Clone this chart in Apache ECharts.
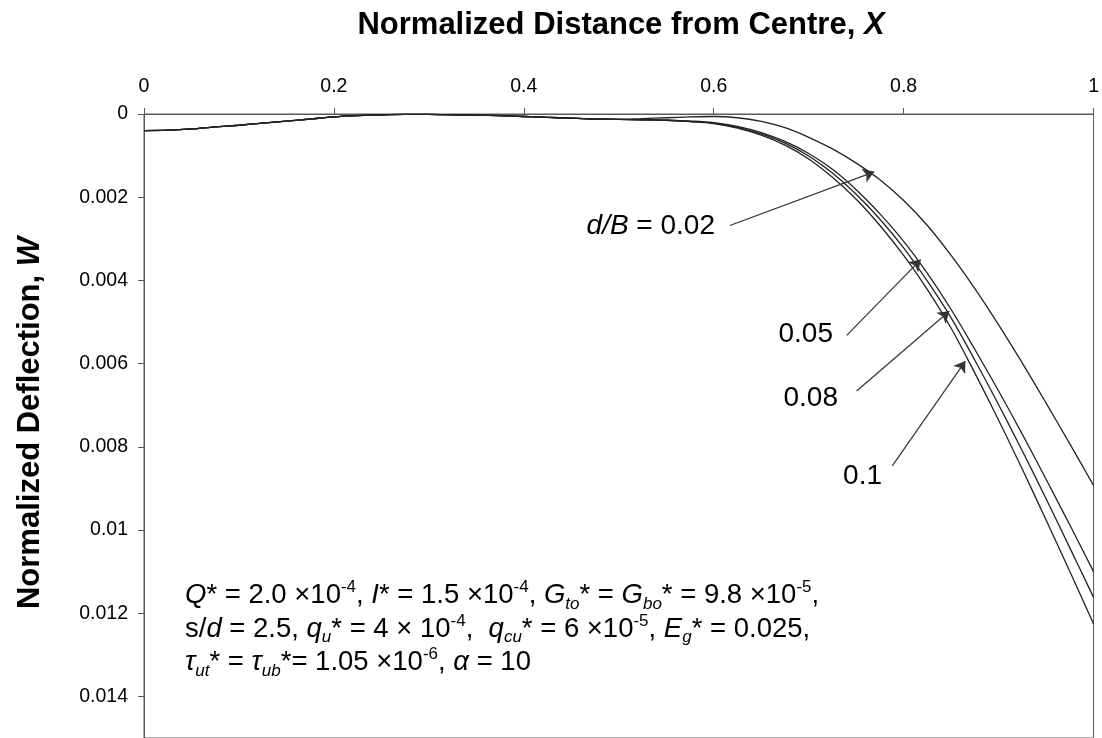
<!DOCTYPE html>
<html><head><meta charset="utf-8">
<script src="https://cdn.jsdelivr.net/npm/echarts@6/dist/echarts.min.js"></script>
<style>html,body{margin:0;padding:0;background:#fff}#c{width:1102px;height:738px}</style>
</head><body><div id="c"></div>
<script>
// X positions (normalized distance from centre)
const xValues = [0,0.025,0.05,0.075,0.1,0.125,0.15,0.175,0.2,0.225,0.25,0.275,0.3,0.325,0.35,0.375,0.4,0.425,0.45,0.475,0.5,
  0.525,0.55,0.575,0.6,0.625,0.65,0.675,0.7,0.725,0.75,0.775,0.8,0.825,0.85,0.875,0.9,0.925,0.95,0.975,1];
// shared part of all curves (X = 0 .. 0.5)
const commonW = [0.0004,0.00039,0.00036,0.00031,0.00027,0.00022,0.00017,0.00012,0.00007,0.00004,0.00002,0.00001,0.00001,0.00002,0.00003,0.00004,0.00006,0.00008,0.0001,0.00012,0.00013];
// X = 0.525 .. 1 per d/B
const tail002 = [0.00011,0.00009,0.00007,0.00006,0.00009,0.00018,0.00033,0.00056,0.00084,0.00118,0.00158,0.00208,0.00268,0.0034,0.0042,0.00507,0.00599,0.00695,0.00793,0.00893];
const tail005 = [0.00014,0.00015,0.00017,0.00021,0.0003,0.00045,0.00066,0.00095,0.00133,0.00182,0.0024,0.00306,0.00383,0.0047,0.00566,0.00666,0.0077,0.00878,0.00988,0.0110];
const tail008 = [0.00014,0.00015,0.00018,0.00022,0.00032,0.00048,0.0007,0.00101,0.00142,0.00193,0.00253,0.00322,0.00402,0.0049,0.00592,0.00699,0.0081,0.00925,0.01043,0.01162];
const tail010 = [0.00014,0.00015,0.00018,0.00023,0.00034,0.00051,0.00075,0.00108,0.00152,0.00205,0.00268,0.0034,0.00422,0.00515,0.00623,0.00736,0.00854,0.00976,0.011,0.01226];
const seriesNames = ['d/B = 0.02','d/B = 0.05','d/B = 0.08','d/B = 0.1'];
const xTicks = [0,0.2,0.4,0.6,0.8,1];
const yTicks = [0,0.002,0.004,0.006,0.008,0.01,0.012,0.014];
// annotation arrows: [tailX, tailW, tipX, tipW]
const arrows = [
  [0.617,0.00268,0.769,0.00139],
  [0.740,0.00532,0.818,0.00350],
  [0.7505,0.00666,0.848,0.00474],
  [0.788,0.00846,0.865,0.00594]
];

const tails = [tail002,tail005,tail008,tail010];
function build(tail){ const w = commonW.concat(tail); return xValues.map((x,i)=>[x,w[i]]); }

const chart = echarts.init(document.getElementById('c'));
const FONT = 'Liberation Sans, Arial, sans-serif';
const series = tails.map((t,i)=>({
  name: seriesNames[i], type:'line', data: build(t), smooth:0.35, showSymbol:false,
  lineStyle:{color:'#222', width:1.3}, animation:false, z:3
}));
series.push({
  type:'line', data:[], animation:false,
  markLine:{
    silent:true, animation:false, symbol:['none','arrow'], symbolSize:11,
    lineStyle:{color:'#333', width:1.2, type:'solid'}, label:{show:false},
    data: arrows.map(a=>[{coord:[a[0],a[1]]},{coord:[a[2],a[3]]}])
  }
});

const sup = {fontSize:17, verticalAlign:'top', lineHeight:18, fontFamily:FONT, color:'#000'};
const sub = {fontSize:17, verticalAlign:'bottom', lineHeight:10, fontFamily:FONT, fontStyle:'italic', color:'#000'};
const it = {fontStyle:'italic', fontSize:27.5, fontFamily:FONT, color:'#000', lineHeight:33.5};
const nm = {fontSize:27.5, fontFamily:FONT, color:'#000', lineHeight:33.5};
const tb = {fontSize:31, fontWeight:'bold', fontFamily:FONT, color:'#000'};
const tbi = {fontSize:31, fontWeight:'bold', fontStyle:'italic', fontFamily:FONT, color:'#000'};

chart.setOption({
  backgroundColor:'#fff',
  animation:false,
  grid:{left:144, right:8, top:114, bottom:-3, show:true, borderColor:'#595959', borderWidth:1},
  xAxis:{type:'value', position:'top', min:0, max:1, interval:0.2,
    axisLine:{show:true, lineStyle:{color:'#595959', width:1}},
    axisTick:{show:true, inside:false, length:6, lineStyle:{color:'#595959'}},
    axisLabel:{fontSize:19.5, color:'#000', fontFamily:FONT, margin:17, formatter:v=>String(parseFloat(v.toFixed(3)))},
    splitLine:{show:false}},
  yAxis:{type:'value', inverse:true, min:0, max:0.015, interval:0.002,
    axisLine:{show:true, lineStyle:{color:'#595959', width:1}},
    axisTick:{show:true, length:6, lineStyle:{color:'#595959'}},
    axisLabel:{fontSize:19.5, color:'#000', fontFamily:FONT, margin:16,
      formatter:v=>{ const r = Math.round(v*1000)/1000; return (Math.abs(r/0.002-Math.round(r/0.002))<1e-6) ? String(r) : ''; }},
    splitLine:{show:false}},
  series: series,
  graphic:[
    {type:'text', x:621, y:25, style:{text:'{b|Normalized Distance from Centre, }{bi|X}', align:'center', verticalAlign:'middle', rich:{b:tb, bi:tbi}}},
    {type:'text', x:30, y:423, rotation:Math.PI/2, style:{text:'{b|Normalized Deflection, }{bi|W}', align:'center', verticalAlign:'middle', rich:{b:tb, bi:tbi}}},
    {type:'text', x:715, y:226, style:{text:'{i|d/B}{n| = 0.02}', align:'right', verticalAlign:'middle',
      rich:{i:{fontStyle:'italic', fontSize:28, fontFamily:FONT, color:'#000'}, n:{fontSize:28, fontFamily:FONT, color:'#000'}}}},
    {type:'text', x:833, y:334, style:{text:'0.05', align:'right', verticalAlign:'middle', fontSize:28, fontFamily:FONT, fill:'#000'}},
    {type:'text', x:838, y:398, style:{text:'0.08', align:'right', verticalAlign:'middle', fontSize:28, fontFamily:FONT, fill:'#000'}},
    {type:'text', x:882, y:476, style:{text:'0.1', align:'right', verticalAlign:'middle', fontSize:28, fontFamily:FONT, fill:'#000'}},
    {type:'text', x:185, y:579, style:{
      text:'{i|Q}{n|* = 2.0 ×10}{s|-4}{n|, }{i|I}{n|* = 1.5 ×10}{s|-4}{n|, }{i|G}{b|to}{n|* = }{i|G}{b|bo}{n|* = 9.8 ×10}{s|-5}{n|,}\n'+
           '{n|s/}{i|d}{n| = 2.5, }{i|q}{b|u}{n|* = 4 × 10}{s|-4}{n|,  }{i|q}{b|cu}{n|* = 6 ×10}{s|-5}{n|, }{i|E}{b|g}{n|* = 0.025,}\n'+
           '{i|τ}{b|ut}{n|* = }{i|τ}{b|ub}{n|*= 1.05 ×10}{s|-6}{n|, }{i|α}{n| = 10}',
      lineHeight:33.5, rich:{i:it, n:nm, s:sup, b:sub}}}
  ]
});
</script></body></html>
